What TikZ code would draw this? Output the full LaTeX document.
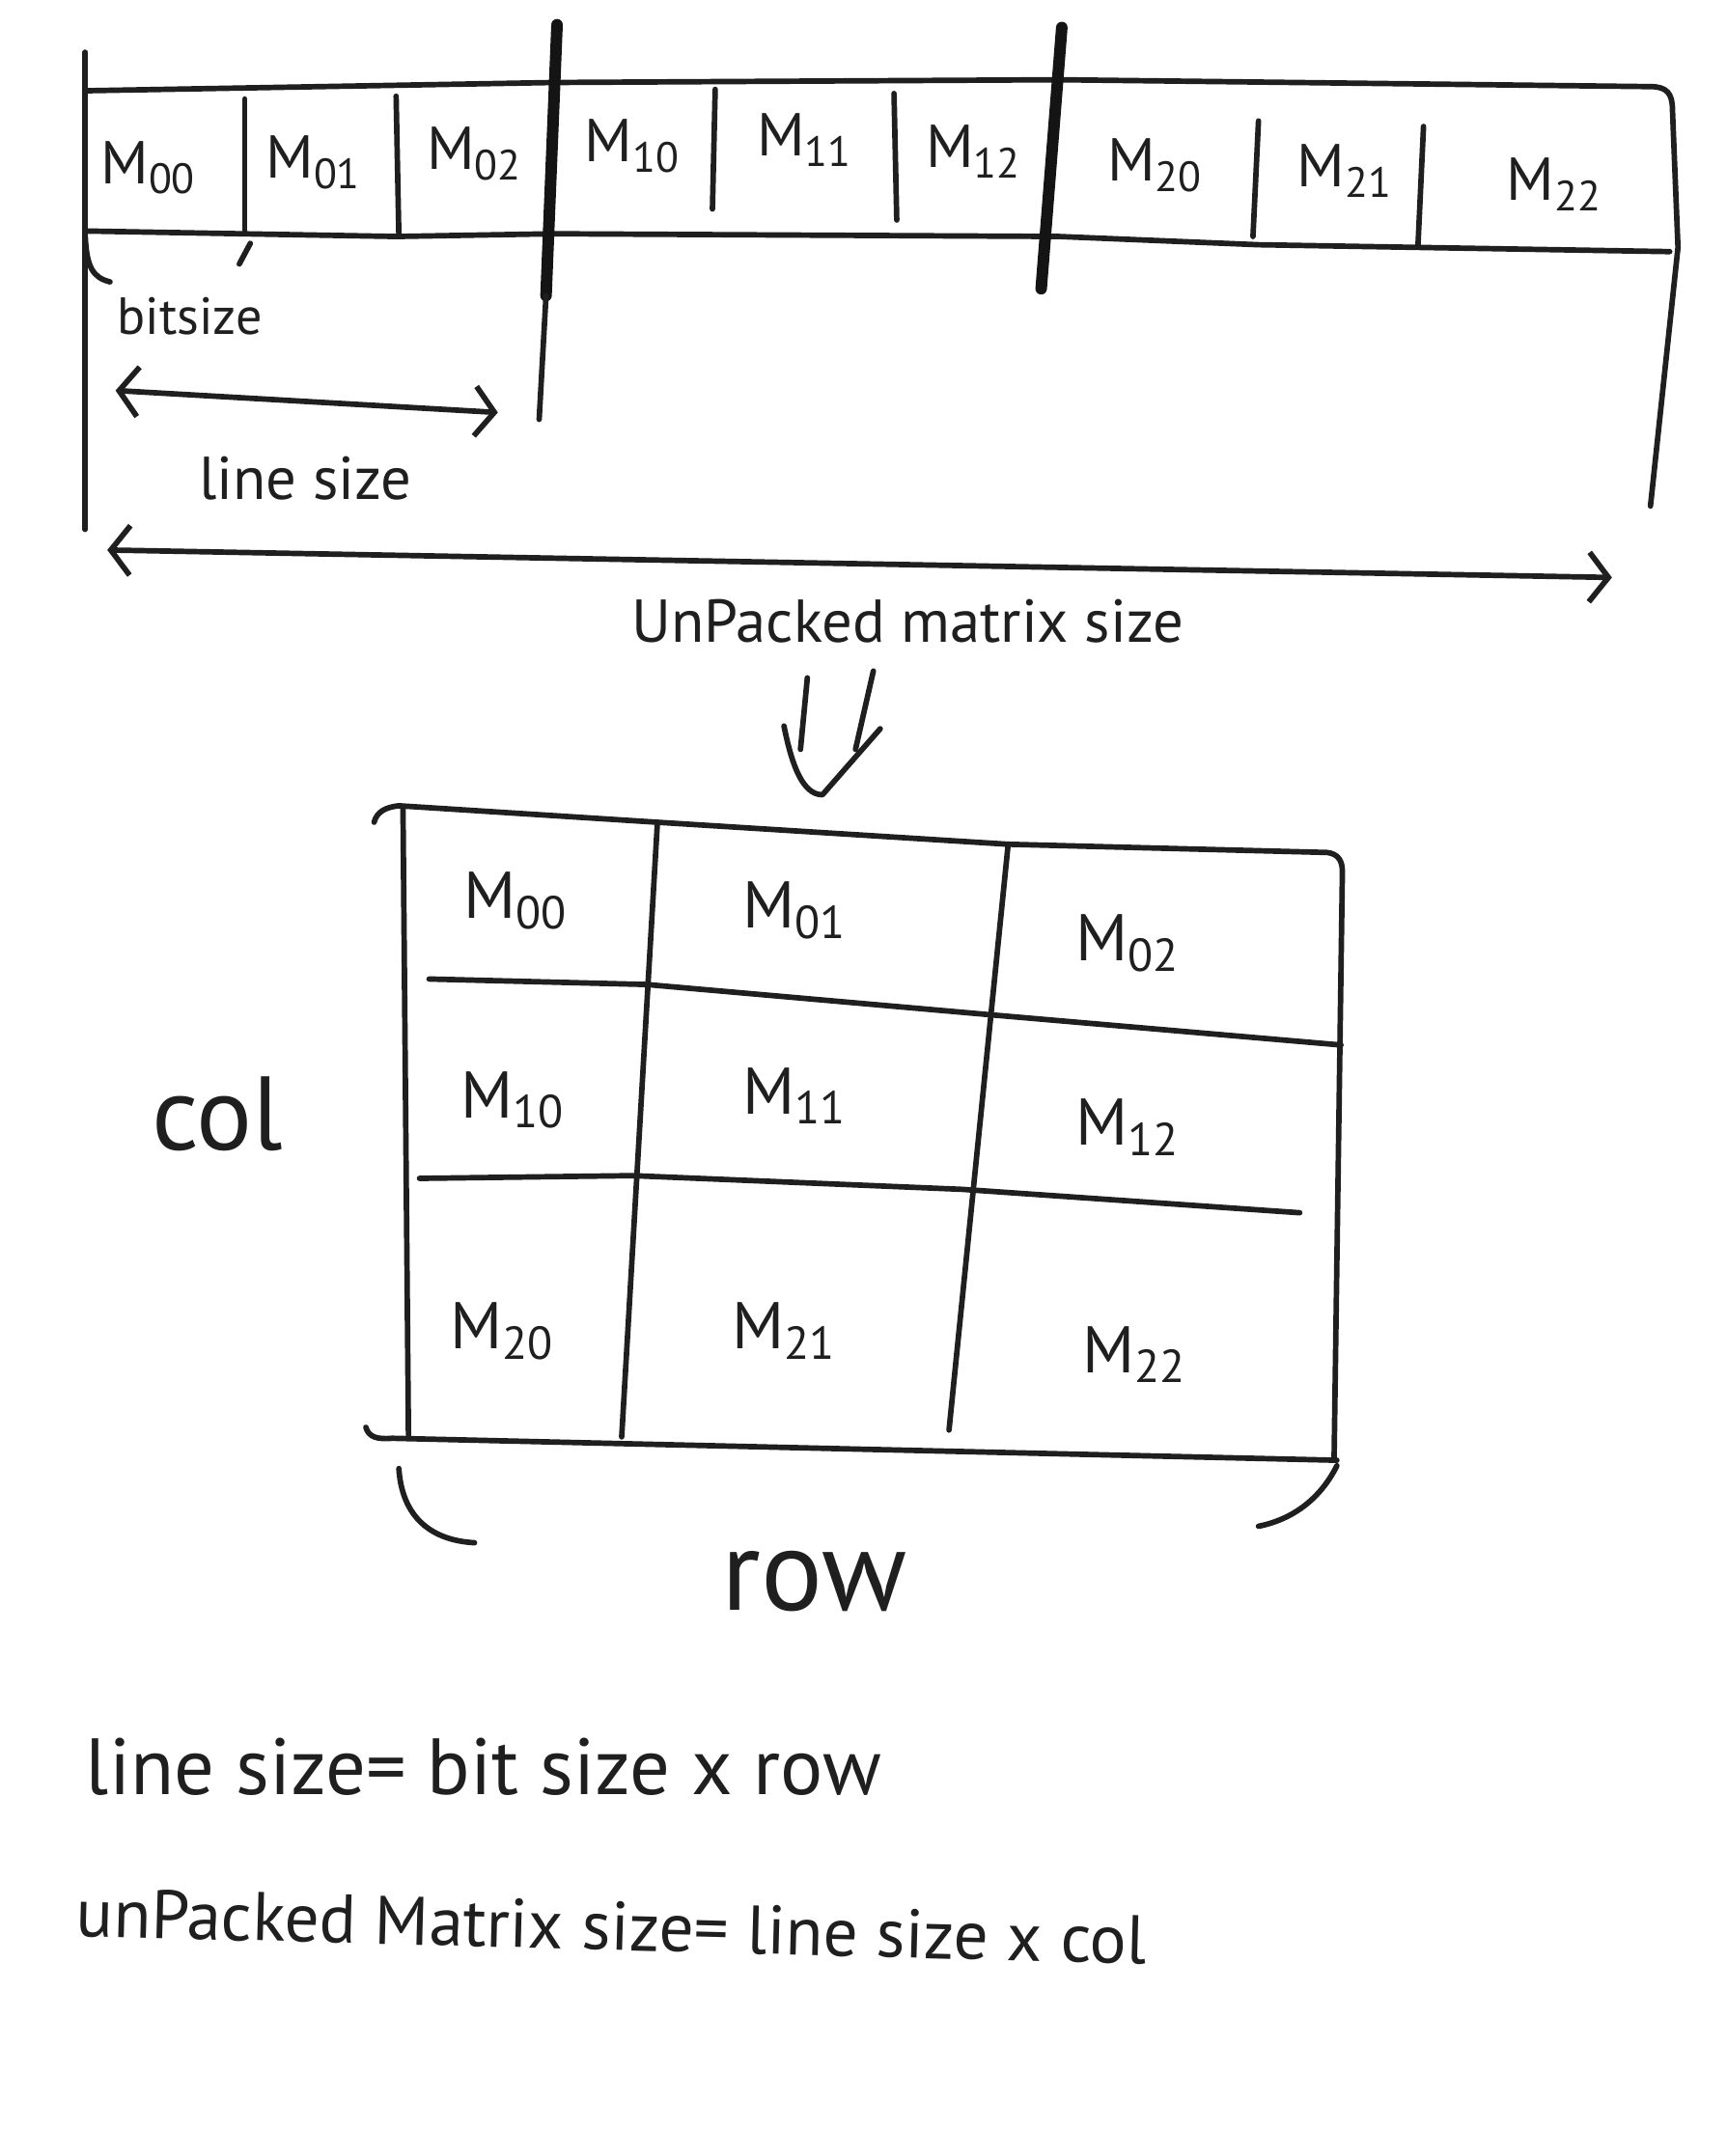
\documentclass[tikz,border=0pt]{standalone}
\usepackage{fontspec}
\setmainfont{PT Sans}
\usetikzlibrary{arrows.meta}
\newcommand\mij[1]{M\textsubscript{#1}}
\begin{document}
\begin{tikzpicture}[x=0.5pt,y=-0.5pt, line cap=round, line join=round,
  ink/.style={line width=2pt, black!88},
  heavyink/.style={line width=4.2pt, black!92},
  barb/.style={{Straight Barb[length=7pt,width=18pt]}-{Straight Barb[length=7pt,width=18pt]}},
  lbl/.style={inner sep=0pt, text=black!88},
  stripcell/.style={lbl, font=\fontsize{22}{26}\selectfont},
  gridcell/.style={lbl, font=\fontsize{24}{28}\selectfont},
  note/.style={lbl, font=\fontsize{22}{26}\selectfont},
  bigword/.style={lbl, font=\fontsize{42}{48}\selectfont},
  formula/.style={lbl, anchor=base west}]
\fill[white] (0,0) rectangle (1255,1568);
\useasboundingbox (0,0) rectangle (1255,1568);

% ---------- top strip ----------
\draw[ink] (62,66) -- (403,60) -- (770,58) -- (1200,63) .. controls (1212,63) and (1216,68) .. (1216,80) -- (1220,180) -- (1200,368);
\draw[ink] (62,168) -- (288,172) -- (403,170) -- (770,172) -- (915,178) -- (1214,183);
\draw[ink] (62,38) -- (62,385);
\draw[ink] (178,72) -- (178,170);
\draw[ink] (288,70) -- (290,172);
\draw[ink] (520,65) -- (518,152);
\draw[ink] (650,68) -- (652,160);
\draw[ink] (915,88) -- (911,172);
\draw[ink] (1035,92) -- (1031,178);
\draw[heavyink] (405,18) -- (397,215);
\draw[ink] (397,215) -- (392,305);
\draw[heavyink] (772,20) -- (757,210);

\node[stripcell] (s00) at (108,122) {\mij{00}};
\node[stripcell] (s01) at (228,118) {\mij{01}};
\node[stripcell] (s02) at (345,112) {\mij{02}};
\node[stripcell] (s10) at (460,106) {\mij{10}};
\node[stripcell] (s11) at (585,102) {\mij{11}};
\node[stripcell] (s12) at (708,110) {\mij{12}};
\node[stripcell] (s20) at (840,120) {\mij{20}};
\node[stripcell] (s21) at (978,124) {\mij{21}};
\node[stripcell] (s22) at (1130,134) {\mij{22}};

% bit size marker
\draw[ink] (62,172) .. controls (63,195) and (68,202) .. (80,205);
\draw[ink] (182,177) -- (174,192);
\node[lbl, font=\fontsize{19}{22}\selectfont] (bits) at (138,230) {bitsize};

% line size arrow
\coordinate (lsA) at (84,284);
\coordinate (lsB) at (362,300);
\draw[ink, barb] (lsA) -- (lsB);
\node[note] (lsz) at (222,348) {line size};

% unpacked matrix size arrow
\coordinate (umA) at (78,400);
\coordinate (umB) at (1172,420);
\draw[ink, barb] (umA) -- (umB);
\node[note] (umsz) at (660,452) {UnPacked matrix size};

% down arrow
\draw[ink] (587,493) -- (582,545);
\draw[ink] (635,488) -- (622,545);
\draw[ink] (570,528) .. controls (576,558) and (584,578) .. (598,578) -- (640,530);

% ---------- matrix ----------
\draw[ink] (290,586) -- (478,598) -- (733,614) -- (965,620) .. controls (973,621) and (976,626) .. (976,634) -- (970,1060);
\draw[ink] (272,598) .. controls (274,590) and (281,587) .. (290,586);
\draw[ink] (293,588) -- (297,1045);
\draw[ink] (478,598) -- (452,1045);
\draw[ink] (733,614) -- (690,1040);
\draw[ink] (312,712) -- (470,716) -- (720,738) -- (975,760);
\draw[ink] (305,857) -- (460,855) -- (700,865) -- (945,882);
\draw[ink] (266,1038) .. controls (268,1045) and (274,1047) .. (285,1046) -- (972,1062);

\node[gridcell] (g00) at (375,655) {\mij{00}};
\node[gridcell] (g01) at (578,662) {\mij{01}};
\node[gridcell] (g02) at (820,686) {\mij{02}};
\node[gridcell] (g10) at (373,800) {\mij{10}};
\node[gridcell] (g11) at (578,797) {\mij{11}};
\node[gridcell] (g12) at (820,820) {\mij{12}};
\node[gridcell] (g20) at (365,968) {\mij{20}};
\node[gridcell] (g21) at (570,968) {\mij{21}};
\node[gridcell] (g22) at (825,985) {\mij{22}};

\node[lbl, font=\fontsize{38}{44}\selectfont] (col) at (158,810) {col};

% row brace
\draw[ink] (290,1068) .. controls (292,1100) and (310,1120) .. (345,1122);
\draw[ink] (972,1066) .. controls (960,1090) and (940,1105) .. (915,1110);
\node[bigword] (row) at (592,1150) {row};

% ---------- formulas ----------
\node[formula, font=\fontsize{29}{34}\selectfont] (f1) at (62,1305) {line size= bit size x row};
\node[formula, font=\fontsize{25}{30}\selectfont, rotate=-1.5] (f2) at (55,1408) {unPacked Matrix size= line size x col};
\end{tikzpicture}
\end{document}
